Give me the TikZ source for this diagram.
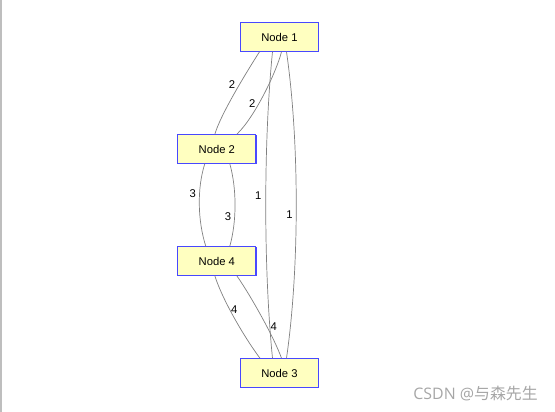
\documentclass[tikz,border=0pt]{standalone}
\usepackage{fontspec}
\setmainfont{Liberation Sans}
\newfontfamily\cjkfont{Noto Sans CJK SC}
\newfontfamily\wmfont{Open Sans}
\usetikzlibrary{calc,shadows}
\definecolor{myblue}{RGB}{72,72,255}
\definecolor{myyellow}{RGB}{255,255,192}
\definecolor{mygray}{RGB}{128,128,128}
\definecolor{myedge}{RGB}{190,190,190}

\begin{document}
\begin{tikzpicture}[x=0.025cm,y=-0.025cm,
  vertex/.style={draw=myblue,fill=myyellow,line width=0.5pt,
                 minimum width=1.95cm,minimum height=0.72cm,
                 font=\fontsize{8}{9}\selectfont,
                 general shadow={fill=myblue,shadow xshift=0.6pt,shadow yshift=-0.6pt}},
  arc/.style={mygray,line width=0.5pt},
  lbl/.style={font=\fontsize{8}{9}\selectfont,text=black,inner sep=0pt}]
  \useasboundingbox (0,0) rectangle (555,412);
  \draw[myedge,line width=0.8pt] (1,0) -- (1,412);
  \node[vertex](n1) at (279.5,37) {Node 1};
  \node[vertex](n2) at (216.8,149) {Node 2};
  \node[vertex](n4) at (216.8,261) {Node 4};
  \node[vertex](n3) at (279.5,373) {Node 3};
  % node 1 -- node 2
  \draw[arc] ($(n1.south)+(-20,0)$) .. controls +(-14,22) and +(6,-20) .. ($(n2.north)+(-2,0)$)
    node[lbl,pos=0.4,left=1mm]{2};
  \draw[arc] ($(n1.south)+(2,0)$) .. controls +(-5,20) and +(18,-17) .. ($(n2.north)+(20,0)$)
    node[lbl,pos=0.6,left=0.8mm]{2};
  % node 2 -- node 4
  \draw[arc] ($(n2.south)+(-12,0)$) .. controls +(-8,25) and +(-8,-25) .. ($(n4.north)+(-11,0)$)
    node[lbl,pos=0.37,left=0.8mm]{3};
  \draw[arc] ($(n2.south)+(13,0)$) .. controls +(7,25) and +(7,-25) .. ($(n4.north)+(13,0)$)
    node[lbl,pos=0.64,left=0.8mm]{3};
  % node 1 -- node 3
  \draw[arc] ($(n1.south)+(-7,0)$) .. controls +(-9,90) and +(-9,-90) .. ($(n3.north)+(-7,0)$)
    node[lbl,pos=0.47,left=1mm]{1};
  \draw[arc] ($(n1.south)+(7,0)$) .. controls +(13,90) and +(13,-90) .. ($(n3.north)+(7,0)$)
    node[lbl,pos=0.53,left=0.8mm]{1};
  % node 4 -- node 3
  \draw[arc] ($(n4.south)+(-2,0)$) .. controls +(8,25) and +(-15,-20) .. ($(n3.north)+(-19.5,0)$)
    node[lbl,pos=0.4,right=0.25mm]{4};
  \draw[arc] ($(n4.south)+(20,0)$) .. controls +(14,20) and +(-7,-20) .. ($(n3.north)+(2,0)$)
    node[lbl,pos=0.6,right=0.9mm]{4};
  \node[font=\fontsize{11.3}{13}\selectfont,text=gray!70,anchor=east,inner sep=0pt](mark)
    at (538,394) {\wmfont CSDN @\cjkfont 与森先生};
\end{tikzpicture}
\end{document}
